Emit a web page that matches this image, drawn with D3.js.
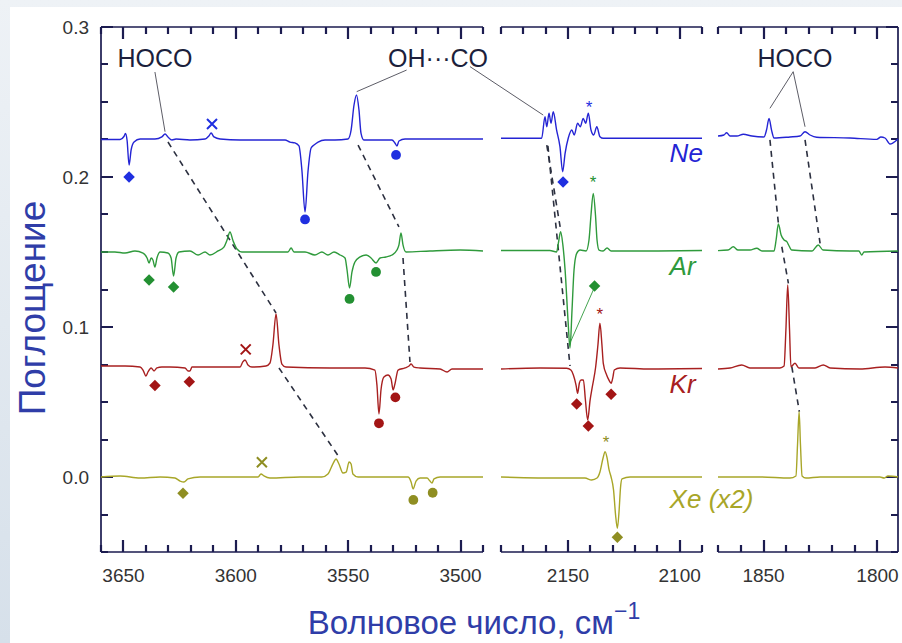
<!DOCTYPE html>
<html>
<head>
<meta charset="utf-8">
<script src="https://cdn.jsdelivr.net/npm/d3@7"></script>
<style>
  html, body { margin: 0; padding: 0; background: #fff; }
  svg { display: block; font-family: "Liberation Sans", Arial, sans-serif; }
</style>
</head>
<body>
<svg id="chart" width="902" height="643"></svg>
<script>
// spectra: [wavenumber cm-1, absorbance], one array per matrix and axis segment
const ne1 = [[3660,0.225],[3651.5,0.225],[3649.8,0.227],[3649.1,0.229],[3648.4,0.2245],[3647.5,0.208],[3646.6,0.218],[3645.3,0.2233],[3642.6,0.2253],[3636,0.2253],[3632.9,0.2267],[3631.5,0.2287],[3630.2,0.2267],[3628.4,0.2247],[3626.6,0.2253],[3620.4,0.2247],[3613.7,0.2253],[3612,0.2273],[3611,0.2293],[3609.7,0.2267],[3607,0.2253],[3598.1,0.2247],[3584.8,0.2247],[3578.1,0.2247],[3575.9,0.2233],[3573.7,0.2227],[3571.9,0.2207],[3570.6,0.2047],[3569.2,0.1767],[3567.9,0.2033],[3566.5,0.2193],[3565.2,0.2213],[3563.4,0.2233],[3560.3,0.2247],[3555.9,0.2247],[3550.1,0.2253],[3548.7,0.2313],[3547.4,0.248],[3546.3,0.2547],[3545.2,0.2447],[3544.3,0.2293],[3543,0.2247],[3535.8,0.2247],[3530.5,0.2247],[3529.2,0.2227],[3528.3,0.2207],[3527.4,0.224],[3524.7,0.2253],[3513.6,0.2253],[3490,0.2253]];
const ne2 = [[2180,0.2258],[2161.8,0.2258],[2160.3,0.2402],[2159.5,0.2335],[2158.5,0.2425],[2157.6,0.2358],[2156.6,0.2435],[2155.1,0.2313],[2153.6,0.2202],[2152.4,0.2035],[2151.3,0.2158],[2149.9,0.2258],[2148.3,0.2313],[2147.2,0.228],[2145.7,0.2358],[2144.5,0.2335],[2143.2,0.2391],[2142.1,0.2358],[2140.9,0.2425],[2139.7,0.2313],[2138.5,0.228],[2137.1,0.2335],[2135.7,0.2269],[2134.2,0.2258],[2113.3,0.2258],[2090,0.2258]];
const ne3 = [[1870,0.2273],[1867.4,0.228],[1866.2,0.2295],[1864.7,0.2273],[1861.7,0.2273],[1858.9,0.2285],[1855.1,0.2273],[1849.8,0.2267],[1848.7,0.2313],[1847.6,0.2391],[1846.5,0.2313],[1845.4,0.226],[1838.4,0.2267],[1834,0.2273],[1831.8,0.2302],[1829.6,0.228],[1826.7,0.2265],[1812.1,0.226],[1800.3,0.2251],[1798.5,0.2267],[1796.7,0.226],[1794.5,0.222],[1793.2,0.2227],[1791,0.2253]];

const ar1 = [[3660,0.15],[3653.8,0.15],[3649.3,0.1493],[3644.9,0.1507],[3641.3,0.1493],[3639.5,0.146],[3638.6,0.1427],[3637.7,0.146],[3636.9,0.1447],[3636,0.14],[3635.1,0.146],[3633.7,0.15],[3630.2,0.1493],[3628.8,0.146],[3627.7,0.134],[3626.6,0.146],[3625.3,0.15],[3620.4,0.1507],[3616.8,0.148],[3613.7,0.15],[3611.5,0.148],[3607.9,0.1507],[3605.3,0.1533],[3603.9,0.158],[3602.6,0.1633],[3601.2,0.1573],[3599.5,0.152],[3597.3,0.15],[3584.8,0.15],[3576.8,0.15],[3575.4,0.1527],[3574.1,0.15],[3569.2,0.15],[3564.8,0.148],[3561.7,0.15],[3559,0.148],[3556.3,0.15],[3553.6,0.148],[3551.4,0.146],[3550.5,0.138],[3549.4,0.126],[3548.3,0.1367],[3547,0.1433],[3544.7,0.1467],[3542,0.148],[3539.8,0.146],[3537.6,0.1427],[3535.8,0.146],[3533.2,0.1467],[3530.5,0.148],[3528.3,0.1513],[3527.4,0.1547],[3526.5,0.1627],[3525.6,0.1547],[3524.3,0.15],[3513.6,0.1507],[3500.2,0.1513],[3490,0.1507]];
const ar2 = [[2180,0.151],[2158.1,0.151],[2155.1,0.15],[2154.3,0.156],[2153.3,0.1635],[2152.3,0.1547],[2151.3,0.138],[2150,0.1047],[2149.1,0.086],[2148.2,0.1113],[2147.3,0.138],[2146.1,0.1491],[2144.6,0.1513],[2141.9,0.1507],[2140.6,0.158],[2139.7,0.1747],[2138.7,0.1891],[2137.7,0.1747],[2137,0.158],[2136.1,0.1513],[2134.3,0.1507],[2132.5,0.1527],[2130.7,0.1507],[2113.3,0.1507],[2090,0.151]];
const ar3 = [[1870,0.1509],[1865.6,0.1513],[1863.3,0.1535],[1861.2,0.1513],[1856,0.1513],[1853,0.1525],[1850.7,0.1507],[1845.4,0.1507],[1844.5,0.158],[1843.5,0.1687],[1842.3,0.1613],[1841,0.158],[1839.8,0.1569],[1838.8,0.154],[1837.7,0.1513],[1828.7,0.1507],[1826,0.1547],[1823.9,0.1513],[1812.1,0.1507],[1808.2,0.1507],[1806.9,0.148],[1805.9,0.15],[1791,0.1507]];

const kr1 = [[3660,0.074],[3649.3,0.074],[3642.6,0.0733],[3641.3,0.0713],[3640,0.0673],[3639.1,0.07],[3637.7,0.0727],[3636.4,0.0707],[3635.1,0.0727],[3632.9,0.0733],[3629.3,0.0733],[3622.6,0.0727],[3621.3,0.0707],[3620.4,0.0707],[3619.5,0.0733],[3613.7,0.0733],[3602.6,0.0733],[3598.1,0.0733],[3596.9,0.0767],[3595.9,0.078],[3594.6,0.0747],[3592.8,0.0733],[3586.6,0.074],[3584.8,0.076],[3583.5,0.088],[3582.1,0.1087],[3580.8,0.088],[3579.5,0.0753],[3577.7,0.0733],[3558.1,0.0727],[3542.5,0.0727],[3538.1,0.0713],[3537.2,0.0613],[3536.3,0.042],[3535.4,0.058],[3534.1,0.0667],[3532.3,0.068],[3530.9,0.0653],[3530,0.058],[3529.2,0.062],[3527.8,0.0713],[3524.7,0.0727],[3522.9,0.074],[3522,0.0753],[3520.7,0.0733],[3518,0.0727],[3509.1,0.072],[3506,0.07],[3503.8,0.072],[3490,0.072]];
const kr2 = [[2180,0.072],[2162.5,0.0727],[2150.6,0.0725],[2148.7,0.0713],[2147.6,0.068],[2146.4,0.0613],[2145.7,0.0558],[2144.9,0.0627],[2144.2,0.0647],[2143.1,0.0647],[2142.2,0.0513],[2141.2,0.038],[2140.1,0.0513],[2139.1,0.0602],[2137.6,0.0735],[2136.6,0.088],[2135.7,0.1025],[2134.8,0.088],[2134.2,0.0758],[2132.7,0.068],[2131.7,0.0647],[2130.7,0.0625],[2129.8,0.0673],[2129.3,0.0713],[2126.7,0.0727],[2113.3,0.072],[2090,0.0723]];
const kr3 = [[1870,0.072],[1864.7,0.0727],[1859.6,0.0747],[1856,0.0727],[1842.8,0.0727],[1841,0.074],[1840.2,0.098],[1839.4,0.128],[1838.6,0.098],[1838,0.0735],[1836.2,0.0758],[1834.5,0.0727],[1827.4,0.0727],[1823.8,0.0747],[1820.8,0.0727],[1807.7,0.072],[1796.7,0.0733],[1791,0.0727]];

const xe1 = [[3660,0],[3651.5,0.0007],[3642.6,-0.0007],[3633.7,0],[3627.1,-0.0007],[3624.8,-0.0027],[3623.1,-0.0033],[3621.3,-0.0013],[3615.9,0],[3602.6,0],[3590.1,0],[3588.8,0.002],[3587.5,0.0007],[3584.8,-0.0007],[3571.4,0],[3561.7,0],[3559,0.002],[3556.8,0.0087],[3555.4,0.012],[3554.1,0.0087],[3552.3,0.0027],[3550.9,0.0033],[3549.6,0.01],[3548.7,0.0087],[3547.9,0.002],[3545.6,0],[3535.8,0],[3523.4,0],[3522,-0.0033],[3521.1,-0.008],[3519.8,-0.0027],[3518,-0.0007],[3514.9,-0.0007],[3513.6,-0.0027],[3512.7,-0.004],[3511.8,-0.0013],[3509.1,0],[3490,0]];
const xe2 = [[2180,0],[2153.6,-0.0007],[2142.4,-0.0007],[2139.4,-0.002],[2137,-0.0007],[2135.7,0.0033],[2134.3,0.0127],[2133.4,0.0169],[2132.5,0.0127],[2131.6,0.0047],[2130.7,0],[2129.6,-0.0087],[2128.7,-0.0253],[2127.9,-0.0342],[2127.1,-0.022],[2126.5,-0.0073],[2125.8,-0.0013],[2122.2,0],[2090,0]];
const xe3 = [[1870,0],[1851.6,0],[1838.4,-0.0007],[1835.8,0.0007],[1835.1,0.0213],[1834.4,0.0435],[1833.8,0.0213],[1833.1,0.0007],[1831.4,-0.0007],[1825.2,0],[1798.9,0],[1797.1,-0.0007],[1795.4,0.0007],[1791,0]];

// band markers: [segment, wavenumber, absorbance, kind]
const neMarks = [[0,3647.5,0.2,"diamond"],[0,3610.6,0.2353,"times"],[0,3569.2,0.1717,"circle"],[0,3528.7,0.2147,"circle"],[1,2152.2,0.1967,"diamond"],[1,2140.6,0.248,"star"]];
const arMarks = [[0,3638.6,0.1313,"diamond"],[0,3627.7,0.1267,"diamond"],[0,3549.4,0.1187,"circle"],[0,3537.6,0.1367,"circle"],[1,2138.8,0.198,"star"],[1,2138.1,0.1273,"diamond"]];
const krMarks = [[0,3636,0.061,"diamond"],[0,3620.7,0.0635,"diamond"],[0,3595.6,0.0851,"times"],[0,3536.3,0.0358,"circle"],[0,3529,0.0531,"circle"],[1,2135.7,0.1102,"star"],[1,2146.1,0.0487,"diamond"],[1,2140.9,0.034,"diamond"],[1,2130.7,0.0551,"diamond"]];
const xeMarks = [[0,3623.5,-0.0109,"diamond"],[0,3588.4,0.0098,"times"],[0,3521,-0.0153,"circle"],[0,3512.4,-0.0105,"circle"],[1,2133,0.0247,"star"],[1,2127.9,-0.0402,"diamond"]];

// correlation lines between matrices (dashed): [segment, w1, a1, w2, a2]
const dashLinks = [
  [0,3630.2,0.2233,3582.1,0.1093],[0,3580.8,0.0727,3554.1,0.0133],
  [0,3545.6,0.2213,3527.4,0.1667],[0,3525.6,0.146,3522.5,0.0767],
  [1,2159.5,0.2213,2153.3,0.1647],[1,2159,0.2207,2149.1,0.074],
  [2,1847.2,0.2247,1843.5,0.1691],[2,1842,0.1535,1839.1,0.1291],[2,1837.6,0.0735,1834.3,0.0435],
  [2,1831.8,0.2247,1825.2,0.1558]
];
// label leader lines (solid): [seg1, w1, a1, seg2, w2, a2]
const leaders = [
  [0,3636,0.27,0,3631.5,0.2302],
  [0,3524,0.2713,0,3546.2,0.2569],
  [0,3495.8,0.2736,1,2161.1,0.2413],
  [2,1837,0.2702,2,1847.2,0.2458],
  [2,1837,0.2702,2,1831.8,0.2335]
];
const arLeader = [1,2137.7,0.128,1,2148.9,0.09];
// band labels: [segment, wavenumber, absorbance, text]
const bandLabels = [[0,3636,0.2733,"HOCO"],[0,3510,0.2733,"OH\u00b7\u00b7\u00b7CO"],[2,1836.2,0.2733,"HOCO"]];

const xDomains = [[3660,3490],[2180,2090],[1870,1791]];
const xTickLabels = [[3650,3600,3550,3500],[2150,2100],[1850,1800]];
const yTickLabels = [0.0,0.1,0.2,0.3];

const matrices = [
  {name:"Ne", parts:[ne1,ne2,ne3], marks:neMarks, color:"#2424d4", mark:"#1f2fe0", la:0.2102},
  {name:"Ar", parts:[ar1,ar2,ar3], marks:arMarks, color:"#2f9a3c", mark:"#239032", la:0.1347},
  {name:"Kr", parts:[kr1,kr2,kr3], marks:krMarks, color:"#a82020", mark:"#a31515", la:0.056},
  {name:"Xe (x2)", parts:[xe1,xe2,xe3], marks:xeMarks, color:"#a8a628", mark:"#8f8e22", la:-0.0207}
];

// ---- layout ----
const svg = d3.select("#chart");
const plotTop = 27, plotBottom = 552;
const xRanges = [[101,483],[501,702],[718,898]];
const x = xDomains.map((d,i) => d3.scaleLinear().domain(d).range(xRanges[i]));
const y = d3.scaleLinear().domain([-0.05,0.3]).range([plotBottom, plotTop]);
const axisColor = "#1c1c50";

// slide background
const defs = svg.append("defs");
const grad = defs.append("linearGradient").attr("id","bg").attr("x1","0").attr("y1","0").attr("x2","0").attr("y2","1");
grad.append("stop").attr("offset","0").attr("stop-color","#eef2f6");
grad.append("stop").attr("offset","1").attr("stop-color","#d6e0ea");
svg.append("rect").attr("width",902).attr("height",643).attr("fill","url(#bg)");
svg.append("rect").attr("x",10).attr("y",7).attr("width",892).attr("height",636).attr("fill","#fff");

const g = svg.append("g");

// frame segments and inward ticks, collected into one path each
const frame = d3.path();
const ticks = d3.path();

x.forEach((sc, i) => {
  const [d0, d1] = sc.domain();
  const minor = d3.range(Math.ceil(d1/10)*10, d0 + 0.1, 10);
  const major = xTickLabels[i];
  const [r0, r1] = sc.range();
  [plotBottom, plotTop].forEach(yy => { frame.moveTo(r0, yy); frame.lineTo(r1, yy); });
  minor.forEach(v => {
    const len = major.includes(v) ? 12 : 7;
    const px = Math.round(sc(v));
    ticks.moveTo(px, plotBottom); ticks.lineTo(px, plotBottom - len);
    ticks.moveTo(px, plotTop); ticks.lineTo(px, plotTop + len);
  });
  g.selectAll(null).data(major).join("text")
    .attr("x", d => sc(d)).attr("y", plotBottom + 30)
    .attr("text-anchor", "middle").attr("font-size", 19).attr("fill", "#333")
    .text(d => d);
});

const yMinor = d3.range(-2, 13).map(k => k * 0.025);
[xRanges[0][0], xRanges[2][1]].forEach((xx, side) => {
  const dir = side === 0 ? 1 : -1;
  frame.moveTo(xx, plotTop); frame.lineTo(xx, plotBottom);
  yMinor.forEach(v => {
    const len = Math.abs(v * 10 - Math.round(v * 10)) < 1e-6 ? 12 : 7;
    const py = Math.round(y(v));
    ticks.moveTo(xx, py); ticks.lineTo(xx + dir * len, py);
  });
});
g.append("path").attr("d", frame.toString()).attr("fill", "none")
  .attr("stroke", axisColor).attr("stroke-width", 1.7);
g.append("path").attr("d", ticks.toString()).attr("fill", "none")
  .attr("stroke", axisColor).attr("stroke-width", 2.2);

g.selectAll(null).data(yTickLabels).join("text")
  .attr("x", xRanges[0][0] - 12).attr("y", d => y(d) + 7)
  .attr("text-anchor", "end").attr("font-size", 19).attr("fill", "#333")
  .text(d3.format(".1f"));

// dashed correlation lines
g.selectAll(".link").data(dashLinks).join("line")
  .attr("x1", d => x[d[0]](d[1])).attr("y1", d => y(d[2]))
  .attr("x2", d => x[d[0]](d[3])).attr("y2", d => y(d[4]))
  .attr("stroke", "#2c3040").attr("stroke-width", 1.6).attr("stroke-dasharray", "6,5");

// leader lines to labels
g.selectAll(".lead").data(leaders).join("line")
  .attr("x1", d => x[d[0]](d[1])).attr("y1", d => y(d[2]))
  .attr("x2", d => x[d[3]](d[4])).attr("y2", d => y(d[5]))
  .attr("stroke", "#4a4a55").attr("stroke-width", 0.9);
g.append("line")
  .attr("x1", x[arLeader[0]](arLeader[1])).attr("y1", y(arLeader[2]))
  .attr("x2", x[arLeader[3]](arLeader[4])).attr("y2", y(arLeader[5]))
  .attr("stroke", "#2f9a3c").attr("stroke-width", 0.9);

// spectra
matrices.forEach(m => {
  m.parts.forEach((pts, i) => {
    const line = d3.line().x(d => x[i](d[0])).y(d => y(d[1])).curve(d3.curveMonotoneX);
    g.append("path").datum(pts).attr("d", line)
      .attr("fill", "none").attr("stroke", m.color).attr("stroke-width", 1.4)
      .attr("stroke-linejoin", "round");
  });
});

// markers
const diamond = d3.symbol(d3.symbolSquare, 66)();
const circle = d3.symbol(d3.symbolCircle, 75)();
matrices.forEach(m => {
  m.marks.forEach(([i, w, a, kind]) => {
    const px = x[i](w), py = y(a);
    if (kind === "diamond") {
      g.append("path").attr("d", diamond).attr("fill", m.mark)
        .attr("transform", `translate(${px},${py}) rotate(45)`);
    } else if (kind === "circle") {
      g.append("path").attr("d", circle).attr("fill", m.mark)
        .attr("transform", `translate(${px},${py})`);
    } else if (kind === "times") {
      const r = 5;
      g.append("path").attr("d", `M${-r},${-r}L${r},${r}M${-r},${r}L${r},${-r}`)
        .attr("stroke", m.mark).attr("stroke-width", 2).attr("fill", "none")
        .attr("transform", `translate(${px},${py})`);
    } else {
      g.append("text").attr("x", px).attr("y", py + 8).attr("text-anchor", "middle")
        .attr("font-size", 17).attr("fill", m.mark).text("*");
    }
  });
  g.append("text").attr("x", x[1](2104.5)).attr("y", y(m.la))
    .attr("font-size", 26).attr("font-style", "italic").attr("fill", m.color)
    .text(m.name);
});

// band labels
g.selectAll(".band").data(bandLabels).join("text")
  .attr("x", d => x[d[0]](d[1])).attr("y", d => y(d[2]))
  .attr("text-anchor", "middle").attr("font-size", 25).attr("fill", "#1c1f3c")
  .text(d => d[3]);

// axis titles
svg.append("text").attr("transform", "translate(45,308) rotate(-90)")
  .attr("text-anchor", "middle").attr("font-size", 37).attr("fill", "#2f3da8")
  .text("Поглощение");
const xt = svg.append("text").attr("x", 474).attr("y", 634)
  .attr("text-anchor", "middle").attr("font-size", 33).attr("fill", "#2f3da8");
xt.append("tspan").text("Волновое число, см");
xt.append("tspan").attr("dy", -15).attr("font-size", 23).text("\u22121");
</script>
</body>
</html>
